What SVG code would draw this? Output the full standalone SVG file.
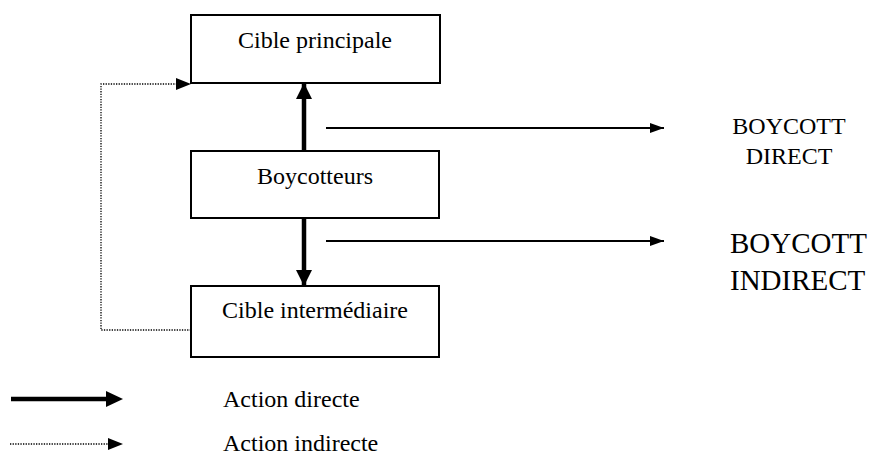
<svg xmlns="http://www.w3.org/2000/svg" width="874" height="456" viewBox="0 0 874 456">
<defs>
<marker id="hthick" markerWidth="16" markerHeight="16" refX="15" refY="8" orient="auto" markerUnits="userSpaceOnUse">
<path d="M0,0 L16,8 L0,16 Z" fill="#000"/>
</marker>
<marker id="hthin" markerWidth="14" markerHeight="10" refX="14" refY="5" orient="auto" markerUnits="userSpaceOnUse">
<path d="M0,0 L14,5 L0,10 Z" fill="#000"/>
</marker>
</defs>
<style>
.box{fill:#fff;stroke:#000;stroke-width:2}
.lbl{font-family:"Liberation Serif","Times New Roman",serif;font-size:24px;fill:#000}
.big{font-size:29px}
.thick{stroke:#000;stroke-width:4.5;fill:none}
.thin{stroke:#000;stroke-width:1.8;fill:none}
.dot{stroke:#000;stroke-width:1.3;stroke-dasharray:1.3 1.3;fill:none}
</style>
<rect width="874" height="456" fill="#fff"/>
<g id="connectors">
<line class="thick" x1="304" y1="150" x2="304" y2="84" marker-end="url(#hthick)"/>
<line class="thick" x1="304" y1="218" x2="304" y2="285" marker-end="url(#hthick)"/>
<line class="thin" x1="326" y1="128" x2="664" y2="128" marker-end="url(#hthin)"/>
<line class="thin" x1="326" y1="241" x2="664" y2="241" marker-end="url(#hthin)"/>
<polyline class="dot" points="191,330 101,330 101,84 176,84"/>
<path d="M176,78 L191,84 L176,90 Z" fill="#000"/>
</g>
<g id="cible-principale">
<rect class="box" x="191" y="15" width="249" height="68"/>
<text class="lbl" x="315" y="48" text-anchor="middle">Cible principale</text>
</g>
<g id="boycotteurs">
<rect class="box" x="191" y="151" width="248" height="67"/>
<text class="lbl" x="315" y="184" text-anchor="middle">Boycotteurs</text>
</g>
<g id="cible-intermediaire">
<rect class="box" x="191" y="286" width="248" height="71"/>
<text class="lbl" x="315" y="318" text-anchor="middle">Cible intermédiaire</text>
</g>
<g id="boycott-direct">
<text class="lbl" x="789" y="134" text-anchor="middle">BOYCOTT</text>
<text class="lbl" x="789" y="164" text-anchor="middle">DIRECT</text>
</g>
<g id="boycott-indirect">
<text class="lbl big" x="730" y="253">BOYCOTT</text>
<text class="lbl big" x="730" y="290">INDIRECT</text>
</g>
<g id="legend">
<line class="thick" x1="11" y1="399" x2="106" y2="399"/>
<path d="M106,391 L123,399 L106,407 Z" fill="#000"/>
<line class="dot" x1="10" y1="444" x2="108" y2="444"/>
<path d="M108,438 L123,444 L108,450 Z" fill="#000"/>
<text class="lbl" x="223" y="407">Action directe</text>
<text class="lbl" x="223" y="451">Action indirecte</text>
</g>
</svg>
